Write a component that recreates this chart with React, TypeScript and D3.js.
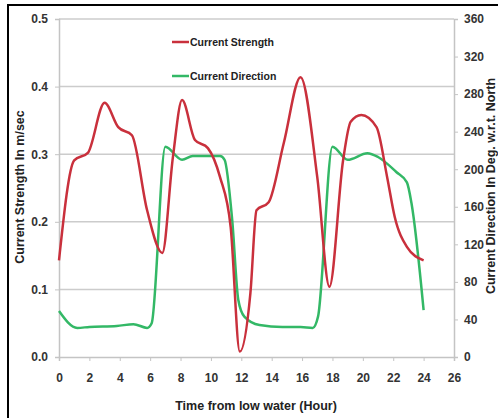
import React, { useRef, useEffect } from "react";
import * as d3 from "d3";

// current strength (m/sec) vs time from low water (hour)
const strengthHours = [0, 1.0, 1.9, 3.0, 3.9, 4.8, 5.8, 6.8, 7.5, 8.1, 8.95, 9.8, 10.6, 11.3, 11.9, 12.6, 13.0, 13.8, 14.8, 15.9, 17.0, 17.8, 18.7, 19.2, 19.9, 20.9, 21.6, 22.1, 22.9, 24.0];
const strengthValues = [0.143, 0.291, 0.302, 0.376, 0.34, 0.328, 0.217, 0.154, 0.296, 0.38, 0.321, 0.309, 0.266, 0.192, 0.008, 0.095, 0.217, 0.229, 0.317, 0.414, 0.266, 0.104, 0.291, 0.348, 0.358, 0.34, 0.266, 0.207, 0.163, 0.143];

// current direction (deg w.r.t. north)
const directionHours = [0, 1.2, 2.0, 3.8, 4.9, 5.8, 6.1, 7.0, 8.1, 8.8, 10.6, 10.9, 11.4, 11.8, 12.2, 13.2, 14.7, 15.9, 16.7, 17.05, 18.0, 19.0, 20.3, 21.0, 22.2, 22.9, 23.2, 24.0];
const directionValues = [49, 31, 32, 33, 35, 31, 36, 224, 210, 214, 214, 210, 146, 61, 43, 34, 32, 32, 31, 43, 224, 210, 217, 213, 197, 186, 164, 50];

const xTicks = [0, 2, 4, 6, 8, 10, 12, 14, 16, 18, 20, 22, 24, 26];
const leftTicks = [0, 0.1, 0.2, 0.3, 0.4, 0.5];
const rightTicks = [0, 40, 80, 120, 160, 200, 240, 280, 320, 360];

const seriesNames = ["Current Strength", "Current Direction"];
const seriesColors = ["#c9303c", "#33b866"];

const FONT = "'Liberation Sans Narrow', 'Liberation Sans', Arial, sans-serif";

const W = 498;
const H = 418;
const margin = { left: 59, right: 44, top: 19, bottom: 61 };

const Chart = () => {
  const ref = useRef<SVGSVGElement>(null);

  useEffect(() => {
    if (!ref.current) return;
    const svg = d3.select(ref.current);
    svg.selectAll("*").remove();

    const x = d3.scaleLinear().domain([0, 26]).range([margin.left, W - margin.right]);
    const yL = d3.scaleLinear().domain([0, 0.5]).range([H - margin.bottom, margin.top]);
    const yR = d3.scaleLinear().domain([0, 360]).range([H - margin.bottom, margin.top]);

    svg.append("rect").attr("width", W).attr("height", H).attr("fill", "#fff");

    // frame (top and left)
    svg.append("line").attr("x1", 8).attr("x2", W).attr("y1", 5).attr("y2", 5).attr("stroke", "#000").attr("stroke-width", 2);
    svg.append("line").attr("x1", 8).attr("x2", 8).attr("y1", 4).attr("y2", H).attr("stroke", "#000").attr("stroke-width", 2);

    // gridlines
    svg
      .append("g")
      .selectAll("line")
      .data(leftTicks.slice(1))
      .enter()
      .append("line")
      .attr("x1", x(0))
      .attr("x2", x(26))
      .attr("y1", (d) => yL(d))
      .attr("y2", (d) => yL(d))
      .attr("stroke", "#cccccc")
      .attr("stroke-width", 1.5);

    // axes
    const gx = svg
      .append("g")
      .attr("transform", `translate(0,${yL(0)})`)
      .call(d3.axisBottom(x).tickValues(xTicks).tickSize(4).tickPadding(12).tickFormat(d3.format("d")));
    const gl = svg
      .append("g")
      .attr("transform", `translate(${x(0)},0)`)
      .call(d3.axisLeft(yL).tickValues(leftTicks).tickSize(4).tickPadding(7).tickFormat(d3.format(".1f")));
    const gr = svg
      .append("g")
      .attr("transform", `translate(${x(26)},0)`)
      .call(d3.axisRight(yR).tickValues(rightTicks).tickSize(4).tickPadding(6).tickFormat(d3.format("d")));

    [gx, gl, gr].forEach((g) => {
      g.select(".domain").attr("stroke", "#c4c4c4").attr("stroke-width", 1.5);
      g.selectAll(".tick line").attr("stroke", "#c4c4c4");
      g.selectAll(".tick text")
        .attr("fill", "#333")
        .style("font-family", FONT)
        .style("font-size", "12px")
        .style("font-weight", "bold");
    });

    // lines
    const line = d3.line<[number, number]>().curve(d3.curveMonotoneX);
    const strength: [number, number][] = strengthHours.map((h, i) => [x(h), yL(strengthValues[i])]);
    const direction: [number, number][] = directionHours.map((h, i) => [x(h), yR(directionValues[i])]);

    svg.append("path").attr("d", line(direction)).attr("fill", "none").attr("stroke", seriesColors[1]).attr("stroke-width", 2.5);
    svg.append("path").attr("d", line(strength)).attr("fill", "none").attr("stroke", seriesColors[0]).attr("stroke-width", 2.5);

    // legend
    const legendY = [42, 76];
    seriesNames.forEach((name, i) => {
      svg.append("line").attr("x1", 172).attr("x2", 189).attr("y1", legendY[i]).attr("y2", legendY[i]).attr("stroke", seriesColors[i]).attr("stroke-width", 2.5);
      svg
        .append("text")
        .attr("x", 190)
        .attr("y", legendY[i])
        .attr("dy", "0.35em")
        .attr("fill", "#222")
        .style("font-family", FONT)
        .style("font-size", "10.5px")
        .style("font-weight", "bold")
        .text(name);
    });

    // titles
    const title = (t: string) =>
      svg
        .append("text")
        .attr("fill", "#222")
        .attr("text-anchor", "middle")
        .style("font-family", FONT)
        .style("font-size", "12.5px")
        .style("font-weight", "bold")
        .text(t);

    title("Time from low water (Hour)").attr("x", 256).attr("y", 410);
    title("Current Strength In m/sec").attr("transform", "translate(24,187) rotate(-90)");
    title("Current Direction In Deg. w.r.t. North").attr("transform", "translate(495,186) rotate(-90)");
  }, []);

  return <svg ref={ref} width={W} height={H} style={{ display: "block" }} />;
};

export default function App() {
  return (
    <div style={{ position: "absolute", left: 0, top: 0 }}>
      <Chart />
    </div>
  );
}
